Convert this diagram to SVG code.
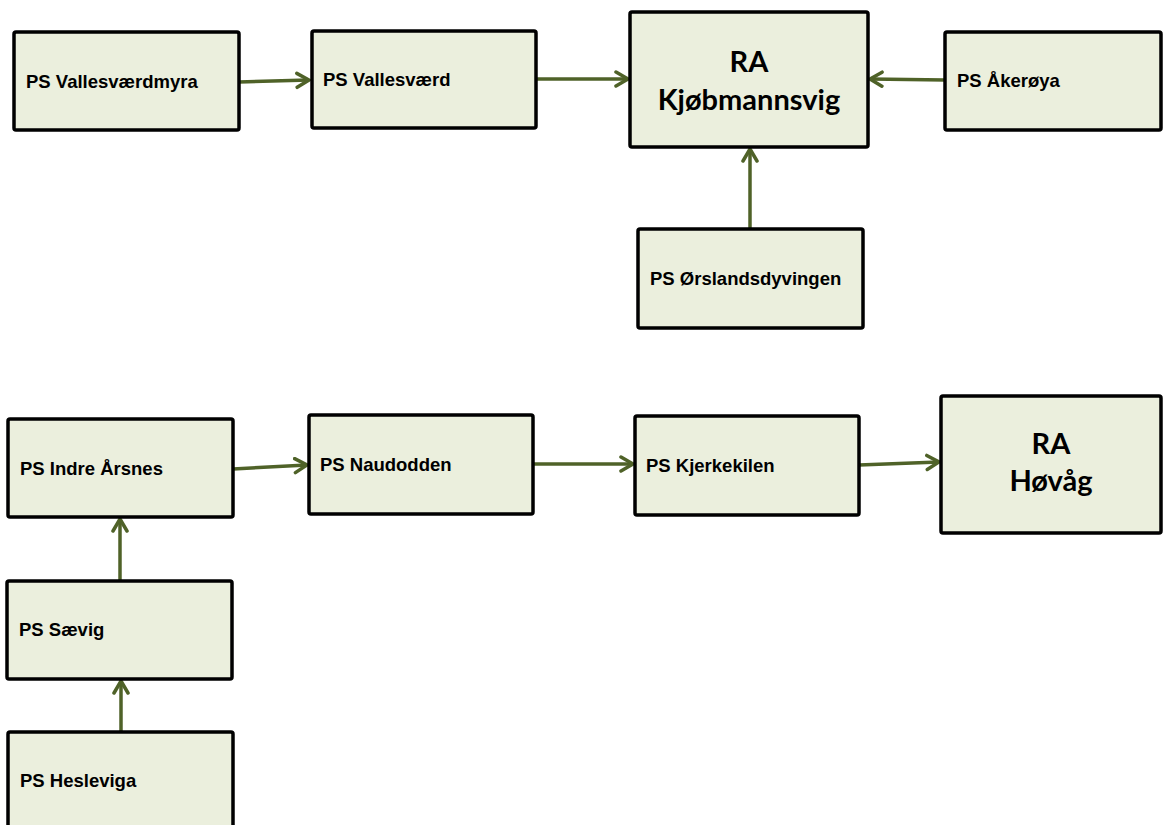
<svg xmlns="http://www.w3.org/2000/svg" width="1163" height="825" viewBox="0 0 1163 825">
<style>
.box{fill:#ebefdd;stroke:#000;stroke-width:3.5}
.ps{font-family:"Liberation Sans",Arial,sans-serif;font-weight:bold;font-size:18.5px;fill:#000}
.ra{font-family:Lato,"Open Sans",sans-serif;font-weight:bold;font-size:29px;fill:#000;text-anchor:middle}
.con{stroke:#4f6228;stroke-width:3.5;fill:none;marker-end:url(#arr)}
</style>
<defs>
<marker id="arr" markerUnits="userSpaceOnUse" markerWidth="20" markerHeight="20" refX="14" refY="9" orient="auto">
<path d="M2,2 L14,9 L2,16" fill="none" stroke="#4f6228" stroke-width="3.5" stroke-linecap="round" stroke-linejoin="miter"/>
</marker>
</defs>
<rect width="1163" height="825" fill="#fff"/>
<g id="connectors">
<line class="con" x1="239" y1="82" x2="309" y2="80"/>
<line class="con" x1="536" y1="79" x2="628" y2="79"/>
<line class="con" x1="945" y1="80" x2="870" y2="79"/>
<line class="con" x1="750" y1="229" x2="750" y2="149"/>
<line class="con" x1="233" y1="469" x2="307" y2="465"/>
<line class="con" x1="533" y1="464" x2="633" y2="464"/>
<line class="con" x1="859" y1="465" x2="939" y2="462"/>
<line class="con" x1="120" y1="581" x2="120" y2="519"/>
<line class="con" x1="121" y1="732" x2="121" y2="681"/>
</g>
<g id="n-vallesvaerdmyra"><rect class="box" x="14" y="32" width="225" height="98" rx="2"/><text class="ps" x="26" y="88">PS Vallesværdmyra</text></g>
<g id="n-vallesvaerd"><rect class="box" x="312" y="31" width="224" height="97" rx="2"/><text class="ps" x="323" y="86">PS Vallesværd</text></g>
<g id="n-ra-kjobmannsvig"><rect class="box" x="630" y="12" width="238" height="135" rx="2"/><text class="ra" x="749" y="72">RA</text><text class="ra" x="749" y="110">Kjøbmannsvig</text></g>
<g id="n-akeroya"><rect class="box" x="945" y="32" width="216" height="98" rx="2"/><text class="ps" x="957" y="87">PS Åkerøya</text></g>
<g id="n-orslandsdyvingen"><rect class="box" x="638" y="229" width="225" height="99" rx="2"/><text class="ps" x="650" y="285">PS Ørslandsdyvingen</text></g>
<g id="n-indre-arsnes"><rect class="box" x="8" y="419" width="225" height="98" rx="2"/><text class="ps" x="20" y="475">PS Indre Årsnes</text></g>
<g id="n-naudodden"><rect class="box" x="309" y="415" width="224" height="99" rx="2"/><text class="ps" x="320" y="471">PS Naudodden</text></g>
<g id="n-kjerkekilen"><rect class="box" x="635" y="416" width="224" height="99" rx="2"/><text class="ps" x="646" y="472">PS Kjerkekilen</text></g>
<g id="n-ra-hovag"><rect class="box" x="941" y="396" width="220" height="137" rx="2"/><text class="ra" x="1051" y="454">RA</text><text class="ra" x="1051" y="491">Høvåg</text></g>
<g id="n-saevig"><rect class="box" x="7" y="581" width="225" height="98" rx="2"/><text class="ps" x="19" y="636">PS Sævig</text></g>
<g id="n-hesleviga"><rect class="box" x="8" y="732" width="225" height="100" rx="2"/><text class="ps" x="20" y="787">PS Hesleviga</text></g>
</svg>
